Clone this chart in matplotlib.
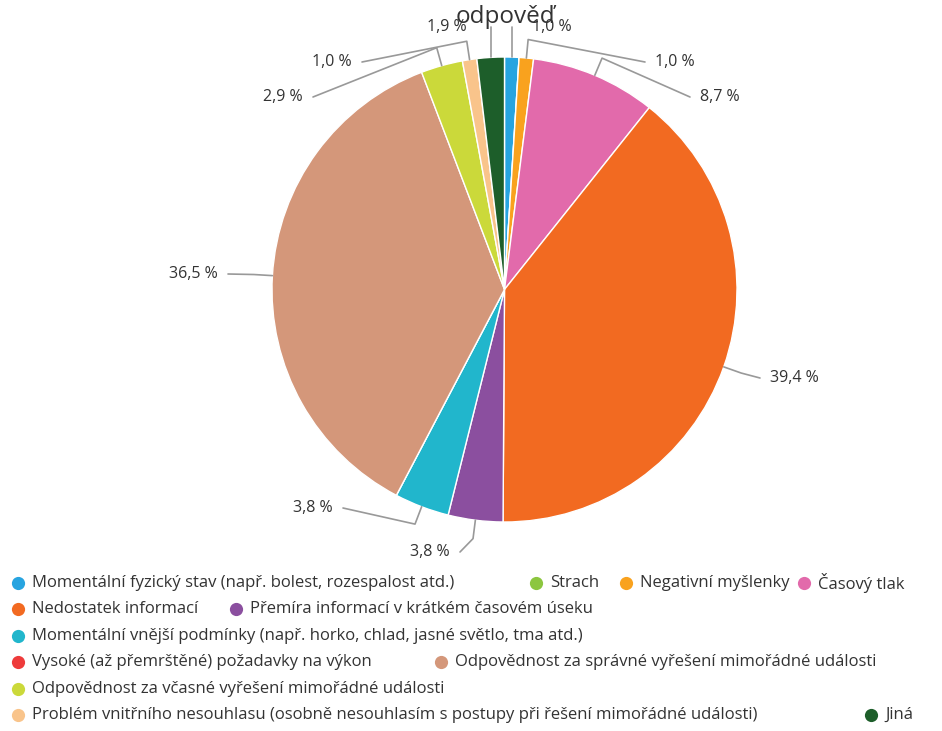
import numpy as np
import matplotlib
matplotlib.use("Agg")
import matplotlib.pyplot as plt

plt.rcParams['font.family'] = ['Open Sans', 'DejaVu Sans']

# data
categories = [
    "Momentální fyzický stav (např. bolest, rozespalost atd.)",
    "Strach",
    "Negativní myšlenky",
    "Časový tlak",
    "Nedostatek informací",
    "Přemíra informací v krátkém časovém úseku",
    "Momentální vnější podmínky (např. horko, chlad, jasné světlo, tma atd.)",
    "Vysoké (až přemrštěné) požadavky na výkon",
    "Odpovědnost za správné vyřešení mimořádné události",
    "Odpovědnost za včasné vyřešení mimořádné události",
    "Problém vnitřního nesouhlasu (osobně nesouhlasím s postupy při řešení mimořádné události)",
    "Jiná",
]
shares = [1.0, 0.0, 1.0, 8.7, 39.4, 3.8, 3.8, 0.0, 36.5, 2.9, 1.0, 1.9]
colors = ["#27a4e0", "#8cc63f", "#f9a21e", "#e26aab", "#f26a21", "#8b4f9f",
          "#21b6cc", "#ee3b3b", "#d4977a", "#cbd93a", "#f9c48b", "#1d5e2a"]

# layout (pixels): label near-edge position, legend row / marker x
label_pos = {0: (532, 27), 2: (655, 62), 3: (700, 97), 4: (770, 378),
             5: (450, 552), 6: (333, 508), 8: (218, 274), 9: (303, 97),
             10: (352, 62), 11: (467, 27)}
legend_pos = [(0, 18), (0, 536), (0, 626), (0, 804), (1, 18), (1, 236),
              (2, 18), (3, 18), (3, 441), (4, 18), (5, 18), (5, 871)]

W, H = 942, 731
CX, CY, R = 504.5, 289.5, 232.5

fig = plt.figure(figsize=(W / 100, H / 100), dpi=100)
ax = fig.add_axes([0, 0, 1, 1])

wedges, _ = ax.pie(shares, colors=colors, startangle=90, counterclock=False,
                   radius=1, wedgeprops=dict(edgecolor='white', linewidth=1))

ax.set_xlim(-CX / R, (W - CX) / R)
ax.set_ylim(-(H - CY) / R, CY / R)
ax.set_aspect('equal')
ax.axis('off')


def px(x, y):
    return (x - CX) / R, (CY - y) / R


# labels with connectors
cum = np.cumsum([0] + shares)
for i, val in enumerate(shares):
    if val <= 0:
        continue
    mid = (cum[i] + cum[i + 1]) / 2
    ang = np.deg2rad(90 - mid * 3.6)
    p0 = np.array([np.cos(ang), np.sin(ang)])
    lx, ly = px(*label_pos[i])
    right = lx > 0
    gap = 10 / R
    if ly > 1.1:
        # labels right above the pie: the connector runs straight up
        xs = [p0[0], p0[0]]
        ys = [p0[1], ly]
    else:
        p1 = p0 * 1.08
        xs = [p0[0], p1[0], lx - gap if right else lx + gap]
        ys = [p0[1], p1[1], ly]
    ax.plot(xs, ys, color='#999999', lw=1.2, solid_capstyle='round')
    ax.text(lx, ly, f"{val:.1f}".replace('.', ',') + " %",
            ha='left' if right else 'right', va='center',
            fontsize=11.5, color='#333333')

# title (second line visible)
tx, ty = px(505, 17)
ax.text(tx, ty, "odpověď", ha='center', va='center', fontsize=17.5,
        color='#333333')

# legend
for i, name in enumerate(categories):
    row, x = legend_pos[i]
    y = 583 + row * 26.4
    mx, my = px(x, y)
    ax.plot(mx, my, 'o', ms=9.5, color=colors[i], mec='none')
    tx, ty = px(x + 14, y)
    ax.text(tx, ty, name, ha='left', va='center', fontsize=12.0,
            color='#333333')

fig.savefig("out.png", dpi=100)
